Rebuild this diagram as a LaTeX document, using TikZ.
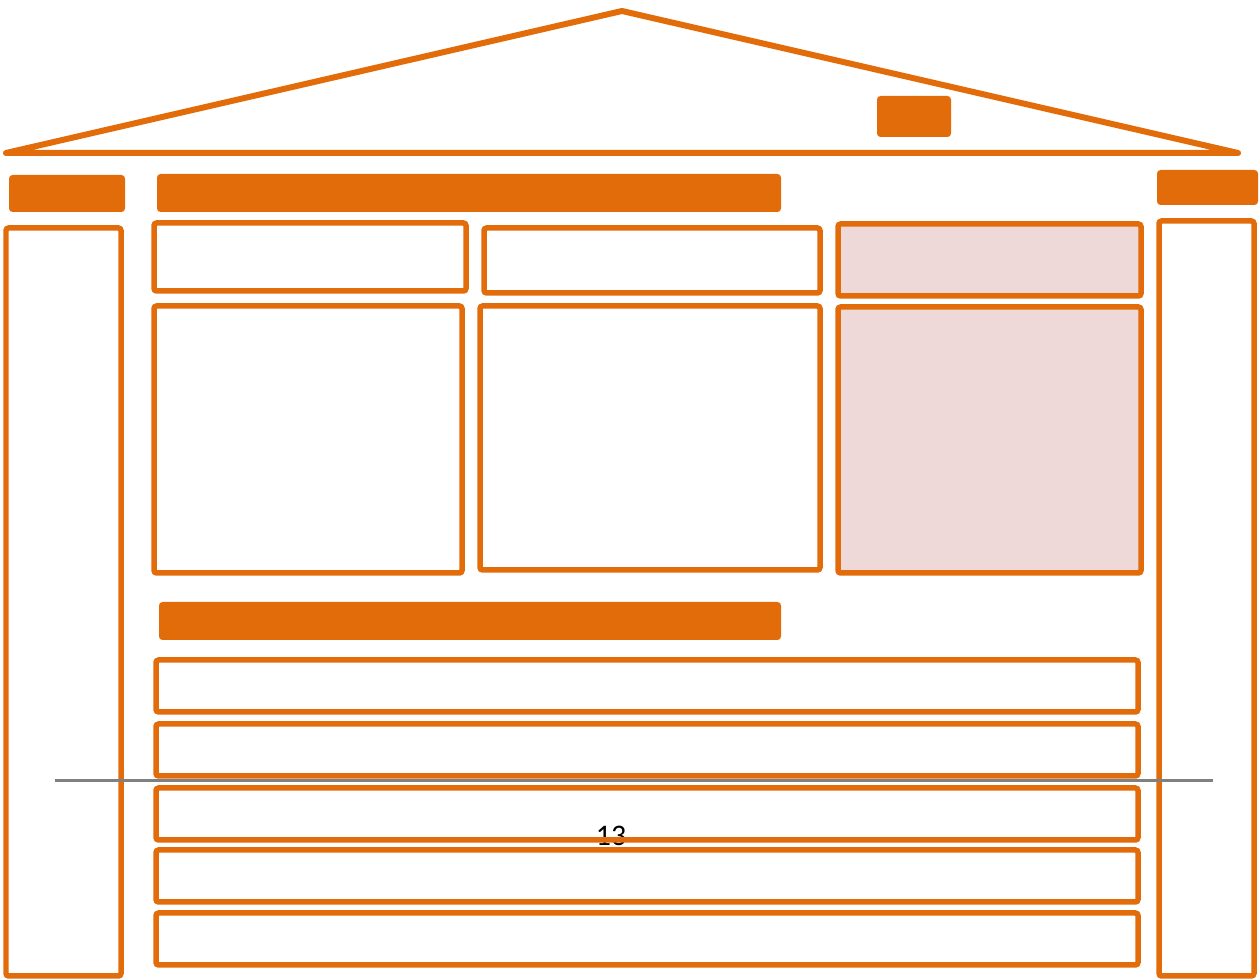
\documentclass[tikz,border=0pt]{standalone}
\usepackage{fontspec}
\setmainfont{Carlito}
\usetikzlibrary{fit}
\definecolor{wforange}{RGB}{226,107,10}
\definecolor{wfpink}{RGB}{239,216,216}
\definecolor{wfgray}{RGB}{128,128,128}
\tikzset{
  frame/.style={draw=wforange, line width=1.1mm, rounded corners=1.5pt, inner sep=0pt, outer sep=0pt},
  pframe/.style={frame, fill=wfpink},
  bar/.style={fill=wforange, draw=none, rounded corners=2pt, inner sep=0pt, outer sep=0pt},
  roof/.style={draw=wforange, line width=1.2mm, line join=round, line cap=round},
  rule/.style={draw=wfgray, line width=0.6mm},
  pagenum/.style={font=\fontsize{17}{20}\selectfont, text=black, inner sep=0pt},
}
\begin{document}
\begin{tikzpicture}[x=0.02cm, y=-0.02cm]
\useasboundingbox (0,0) rectangle (1259,979);
% roof
\coordinate (eaveL) at (6,153);
\coordinate (ridge) at (622,11);
\coordinate (eaveR) at (1238,153);
\draw[roof] (eaveL) -- (ridge) -- (eaveR) -- cycle;
\node[bar, fit={(877,96) (951,137)}] (logo) {};
% header bars
\node[bar, fit={(9,175) (125,212)}] (lefthead) {};
\node[bar, fit={(157,174) (781,212)}] (tophead) {};
\node[bar, fit={(1157,170) (1258,205)}] (righthead) {};
% pillars
\node[frame, fit={(6,228) (121,976)}] (leftcol) {};
\node[frame, fit={(1159,221) (1254,976)}] (rightcol) {};
% upper row
\node[frame, fit={(154,223) (466,291)}] (titleA) {};
\node[frame, fit={(484,228) (820,293)}] (titleB) {};
\node[pframe, fit={(838,224) (1141,296)}] (titleC) {};
\node[frame, fit={(154,306) (462,573)}] (bodyA) {};
\node[frame, fit={(480,306) (820,570)}] (bodyB) {};
\node[pframe, fit={(838,307) (1141,573)}] (bodyC) {};
% lower section
\node[bar, fit={(159,602) (781,640)}] (midhead) {};
\node[pagenum] (pnum) at (611,836) {13};
\foreach \y [count=\i] in {660,724,788,850,913} {
  \node[frame, fit={(156,\y) (1138,\y+52)}] (row\i) {};
}
\coordinate (ruleL) at (55,781);
\coordinate (ruleR) at (1213,781);
\draw[rule] (ruleL) -- (ruleR);
\end{tikzpicture}
\end{document}
